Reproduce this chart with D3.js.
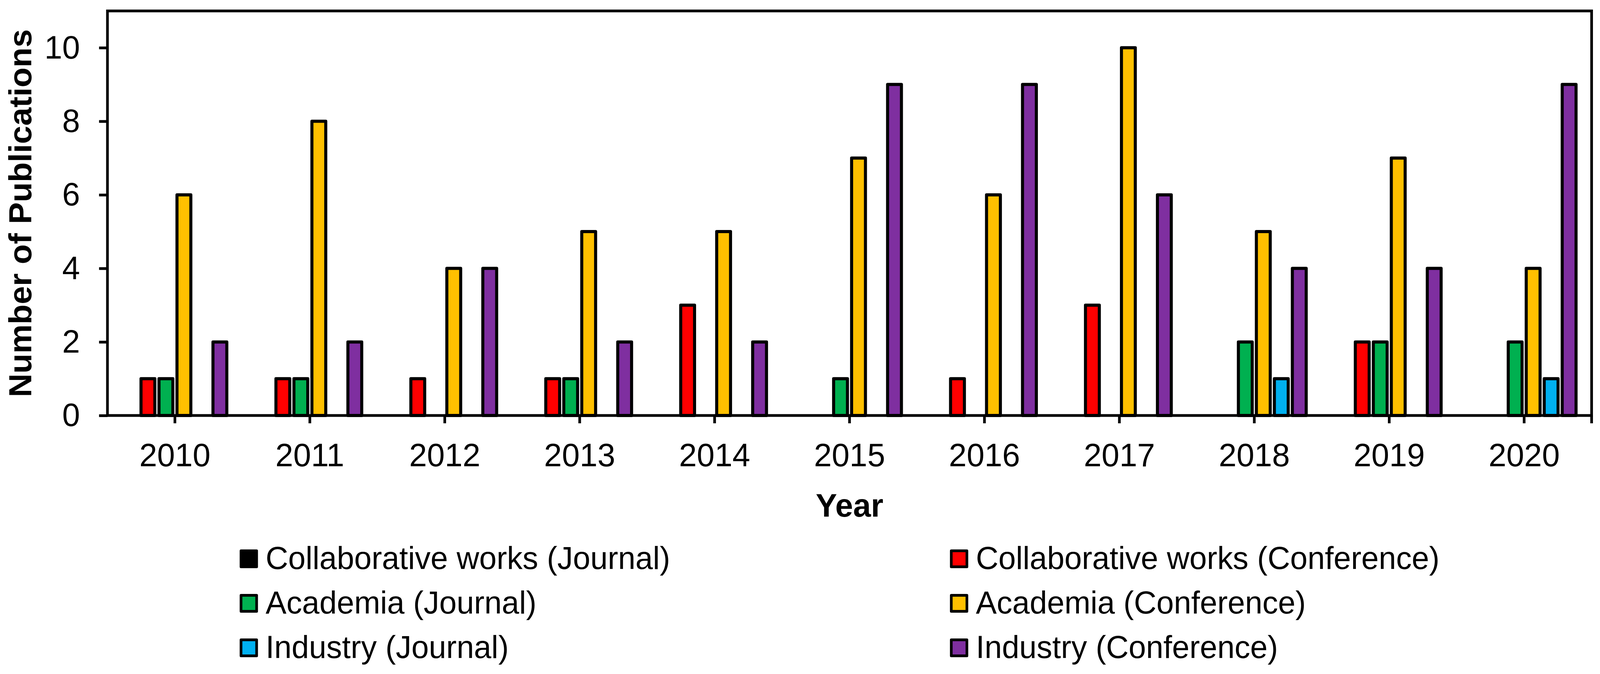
<!DOCTYPE html>
<html>
<head>
<meta charset="utf-8">
<script src="https://cdn.jsdelivr.net/npm/d3@7"></script>
<style>
  html, body { margin: 0; padding: 0; background: #fff; width: 100%; height: 100%; overflow: hidden; }
  svg { display: block; width: 100vw; height: 100vh; font-family: "Liberation Sans", Arial, sans-serif; }
</style>
</head>
<body>
<svg id="chart" viewBox="0 0 4199 1726" preserveAspectRatio="none"></svg>
<script>
const years = ["2010","2011","2012","2013","2014","2015","2016","2017","2018","2019","2020"];
const seriesNames = [
  "Collaborative works (Journal)",
  "Collaborative works (Conference)",
  "Academia (Journal)",
  "Academia (Conference)",
  "Industry (Journal)",
  "Industry (Conference)"
];
const seriesColors = ["#000000", "#FF0000", "#00B050", "#FFC000", "#00B0F0", "#7F2FA0"];
const collabJournal    = [0,0,0,0,0,0,0,0,0,0,0];
const collabConference = [1,1,1,1,3,0,1,3,0,2,0];
const academiaJournal  = [1,1,0,1,0,1,0,0,2,2,2];
const academiaConference = [6,8,4,5,5,7,6,10,5,7,4];
const industryJournal  = [0,0,0,0,0,0,0,0,1,0,1];
const industryConference = [2,2,4,2,2,9,9,6,4,4,9];
const yTicks = [0,2,4,6,8,10];
const yMax = 11;

(function () {
const seriesValues = [collabJournal, collabConference, academiaJournal, academiaConference, industryJournal, industryConference];

const svg = d3.select("#chart");
const W = 4199, H = 1726;
svg.append("rect").attr("width", W).attr("height", H).attr("fill", "#fff");

const pLeft = 282, pRight = 4177, pTop = 28, pBottom = 1064;
const SW = 7, BW = 8;

const x0 = d3.scaleBand().domain(years).range([pLeft, pRight]).paddingInner(0.2).paddingOuter(0.1);
const x1 = d3.scaleBand().domain(d3.range(seriesNames.length)).range([0, x0.bandwidth()]).paddingInner(0.23).paddingOuter(0.115);
const y = d3.scaleLinear().domain([0, yMax]).range([pBottom, pTop]);

// bars
const g = svg.append("g");
years.forEach((yr, j) => {
  const data = seriesValues.map((vals, i) => ({ i, v: vals[j] })).filter(d => d.v > 0);
  g.selectAll(null).data(data).enter().append("rect")
    .attr("x", d => x0(yr) + x1(d.i))
    .attr("y", d => y(d.v))
    .attr("width", x1.bandwidth())
    .attr("height", d => y(0) - y(d.v))
    .attr("fill", d => seriesColors[d.i])
    .attr("stroke", "#000")
    .attr("stroke-width", BW)
    .attr("stroke-linejoin", "round");
});

// y axis
const yAxis = d3.axisLeft(y).tickValues(yTicks).tickSize(22).tickPadding(50).tickSizeOuter(0);
const ya = svg.append("g").attr("transform", `translate(${pLeft},0)`).call(yAxis);
ya.select(".domain").remove();
ya.selectAll(".tick line").attr("stroke", "#000").attr("stroke-width", SW);
ya.selectAll(".tick text").attr("font-size", 84).attr("fill", "#000")
  .attr("font-family", "'Liberation Sans', Arial, sans-serif");

// x axis
const xAxis = d3.axisBottom(x0).tickSize(20).tickPadding(50).tickSizeOuter(0);
const xa = svg.append("g").attr("transform", `translate(0,${pBottom})`).call(xAxis);
xa.select(".domain").remove();
xa.selectAll(".tick line").attr("stroke", "#000").attr("stroke-width", SW);
xa.selectAll(".tick text").attr("font-size", 84).attr("fill", "#000")
  .attr("font-family", "'Liberation Sans', Arial, sans-serif");

// frame
svg.append("rect").attr("x", pLeft).attr("y", pTop).attr("width", pRight - pLeft).attr("height", pBottom - pTop)
  .attr("fill", "none").attr("stroke", "#000").attr("stroke-width", SW);
svg.append("line").attr("x1", pRight).attr("x2", pRight).attr("y1", pBottom).attr("y2", pBottom + 20)
  .attr("stroke", "#000").attr("stroke-width", SW);

// axis titles
svg.append("text").attr("transform", `translate(82,${(pTop + pBottom) / 2}) rotate(-90)`)
  .attr("text-anchor", "middle").attr("font-size", 84).attr("font-weight", "bold").text("Number of Publications");
svg.append("text").attr("x", (pLeft + pRight) / 2).attr("y", 1323)
  .attr("text-anchor", "middle").attr("font-size", 84).attr("font-weight", "bold").text("Year");

// legend
const colX = [629, 2493];
const rowY = [1457, 1571, 1685];
const lg = svg.append("g");
seriesNames.forEach((name, i) => {
  const cx = colX[i % 2], by = rowY[Math.floor(i / 2)];
  lg.append("rect").attr("x", cx + SW / 2).attr("y", by - 50 + SW / 2).attr("width", 48 - SW).attr("height", 48 - SW)
    .attr("fill", seriesColors[i]).attr("stroke", "#000").attr("stroke-width", SW).attr("stroke-linejoin", "round");
  lg.append("text").attr("x", cx + 68).attr("y", by).attr("font-size", 82).text(name);
});
})();
</script>
</body>
</html>
